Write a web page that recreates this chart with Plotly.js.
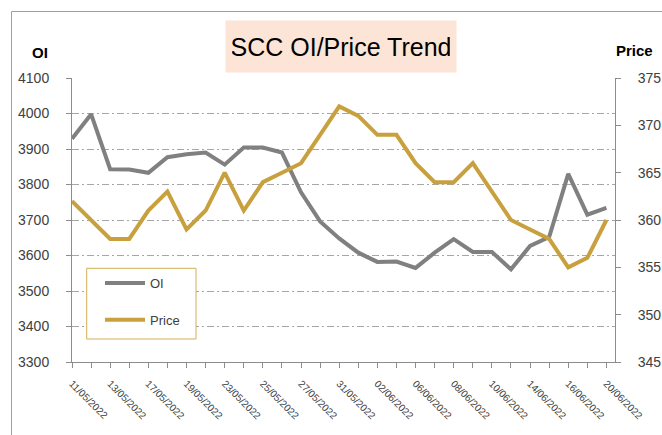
<!DOCTYPE html>
<html><head><meta charset="utf-8">
<script src="https://cdn.plot.ly/plotly-3.0.1.min.js"></script>
<style>html,body{margin:0;padding:0;background:#fff}</style>
</head><body><div id="chart" style="width:662px;height:435px"></div>
<script>
const dates = ['11/05/2022','12/05/2022','13/05/2022','16/05/2022','17/05/2022','18/05/2022','19/05/2022','20/05/2022','23/05/2022','24/05/2022','25/05/2022','26/05/2022','27/05/2022','30/05/2022','31/05/2022','01/06/2022','02/06/2022','03/06/2022','06/06/2022','07/06/2022','08/06/2022','09/06/2022','10/06/2022','13/06/2022','14/06/2022','15/06/2022','16/06/2022','17/06/2022','20/06/2022'];
const oiValues = [3929, 3998, 3843, 3842, 3833, 3877, 3885, 3890, 3856, 3904, 3904, 3890, 3778, 3696, 3648, 3608, 3582, 3583, 3565, 3608, 3646, 3610, 3610, 3561, 3627, 3652, 3830, 3715, 3734];
const priceValues = [362, 360, 358, 358, 361, 363, 359, 361, 365, 361, 364, 365, 366, 369, 372, 371, 369, 369, 366, 364, 364, 366, 363, 360, 359, 358, 355, 356, 360];
const tickLabels = ['11/05/2022','13/05/2022','17/05/2022','19/05/2022','23/05/2022','25/05/2022','27/05/2022','31/05/2022','02/06/2022','06/06/2022','08/06/2022','10/06/2022','14/06/2022','16/06/2022','20/06/2022'];
const titleText = 'SCC OI/Price Trend';
const leftAxisName = 'OI';
const rightAxisName = 'Price';

const FONT = 'Liberation Sans, Arial, sans-serif';
const GRAY = '#808080', GOLD = '#C9A03E', AXIS = '#8c8c8c', TXT = '#404040';

const traces = [
  {x: dates, y: oiValues, name: 'OI', type: 'scatter', mode: 'lines', yaxis: 'y',
   line: {color: GRAY, width: 4}, legendgroup: 'a'},
  {x: dates, y: priceValues, name: 'Price', type: 'scatter', mode: 'lines', yaxis: 'y2',
   line: {color: GOLD, width: 4}, legendgroup: 'b'}
];

const W = 662, H = 435, L = 72, R = 47, T = 78, B = 73;
const pw = W - L - R, ph = H - T - B;
const px = v => (v - L) / pw, py = v => (H - B - v) / ph;

const layout = {
  width: W, height: H, autosize: false,
  margin: {l: L, r: R, t: T, b: B, pad: 0},
  paper_bgcolor: '#fff', plot_bgcolor: '#fff',
  font: {family: FONT, color: TXT},
  showlegend: true,
  legend: {x: px(100), y: py(268), xanchor: 'left', yanchor: 'top', bgcolor: 'rgba(0,0,0,0)',
    borderwidth: 0, itemwidth: 40, tracegroupgap: 17, font: {size: 13, color: TXT, family: FONT}},
  xaxis: {type: 'category', range: [0, 28.45], tickvals: dates,
    ticktext: dates.map(d => tickLabels.includes(d) ? d : ''),
    tickangle: 45, tickfont: {size: 10, color: TXT}, ticks: 'outside', ticklen: 5, tickcolor: AXIS,
    showline: true, linecolor: AXIS, linewidth: 1, showgrid: false, zeroline: false, ticklabelstandoff: 6, automargin: false},
  yaxis: {range: [3300, 4100], tick0: 3300, dtick: 100, showline: true, linecolor: AXIS, linewidth: 1,
    ticks: 'outside', ticklen: 5, tickcolor: AXIS, tickfont: {size: 14, color: TXT},
    showgrid: true, gridcolor: '#a6a6a6', gridwidth: 1, griddash: '7px,3px,2px,3px', zeroline: false,
    ticklabelstandoff: 14, automargin: false},
  yaxis2: {range: [345, 375], tick0: 345, dtick: 5, overlaying: 'y', side: 'right', showline: true,
    linecolor: AXIS, linewidth: 1, ticks: 'outside', ticklen: 5, tickcolor: AXIS,
    tickfont: {size: 14, color: TXT}, showgrid: false, zeroline: false, ticklabelstandoff: 14, automargin: false},
  shapes: [
    {type: 'rect', xref: 'paper', yref: 'paper', x0: px(86.7), x1: px(196), y0: py(339), y1: py(268.3),
     line: {color: '#D4AF5A', width: 1}, fillcolor: '#fff', layer: 'above'},
    {type: 'line', xref: 'paper', yref: 'paper', x0: px(11.5), x1: px(11.5), y0: py(11.5), y1: py(440),
     line: {color: '#a0a0a0', width: 1}},
    {type: 'line', xref: 'paper', yref: 'paper', x0: px(11.5), x1: px(670), y0: py(11.5), y1: py(11.5),
     line: {color: '#a0a0a0', width: 1}}
  ],
  annotations: [
    {text: titleText, xref: 'paper', yref: 'paper', x: px(341.3), y: py(46.8), xanchor: 'center', yanchor: 'middle',
     showarrow: false, bgcolor: '#FCE4D6', width: 218, height: 39, borderpad: 6,
     font: {size: 25, color: '#000', family: FONT}},
    {text: '<b>' + leftAxisName + '</b>', xref: 'paper', yref: 'paper', x: px(39.5), y: py(52.5),
     xanchor: 'center', yanchor: 'middle', showarrow: false, font: {size: 15, color: '#000', family: FONT}},
    {text: '<b>' + rightAxisName + '</b>', xref: 'paper', yref: 'paper', x: px(634.5), y: py(50.5),
     xanchor: 'center', yanchor: 'middle', showarrow: false, font: {size: 15, color: '#000', family: FONT}}
  ]
};

Plotly.newPlot('chart', traces, layout, {displayModeBar: false, staticPlot: true});
</script>
</body></html>
